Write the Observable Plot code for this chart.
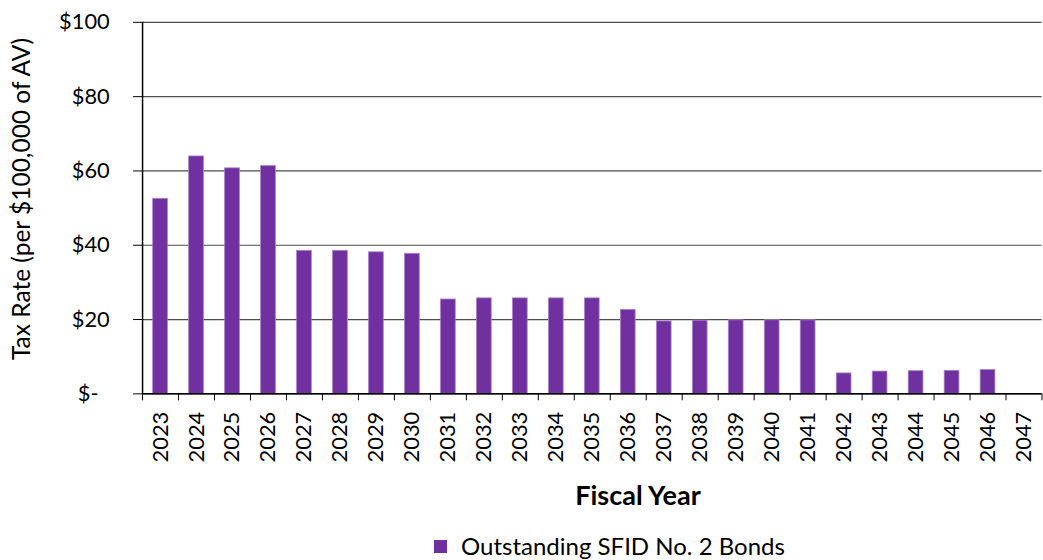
<!DOCTYPE html>
<html>
<head>
<meta charset="utf-8">
<script src="https://cdn.jsdelivr.net/npm/d3@7"></script>
<script src="https://cdn.jsdelivr.net/npm/@observablehq/plot@0.6"></script>
<style>
  html, body { margin: 0; padding: 0; background: #fff; overflow: hidden; }
  #wrap { position: relative; width: 1043px; height: 560px; overflow: hidden; font-family: Lato, "Open Sans", sans-serif; }
  #chart { position: absolute; left: 0; top: 0; }
  #ytitle { position: absolute; left: 21px; top: 199px; transform: translate(-50%, -50%) rotate(-90deg); font-size: 24.5px; color: #000; white-space: nowrap; line-height: 1; }
  #xtitle { position: absolute; left: 638px; top: 479px; transform: translateX(-50%); font-weight: bold; font-size: 27px; color: #000; white-space: nowrap; line-height: 1.2; }
  #legend { position: absolute; left: 434px; top: 532px; display: flex; align-items: center; font-size: 24px; color: #000; white-space: nowrap; line-height: 1.2; }
  #legend .sw { width: 13px; height: 13px; background: #7030A0; margin-right: 14px; }
</style>
</head>
<body>
<div id="wrap">
  <div id="chart"></div>
  <div id="ytitle">Tax Rate (per $100,000 of AV)</div>
  <div id="xtitle">Fiscal Year</div>
  <div id="legend"><span class="sw"></span><span id="legtext"></span></div>
</div>
<script>
const years = [2023, 2024, 2025, 2026, 2027, 2028, 2029, 2030, 2031, 2032, 2033, 2034, 2035, 2036, 2037, 2038, 2039, 2040, 2041, 2042, 2043, 2044, 2045, 2046, 2047];
const taxRate = [52.5, 63.9, 60.7, 61.3, 38.5, 38.5, 38.1, 37.7, 25.4, 25.7, 25.7, 25.7, 25.7, 22.6, 19.5, 19.7, 19.8, 19.8, 19.8, 5.5, 6.0, 6.1, 6.2, 6.4, 0];
const yTicks = [0, 20, 40, 60, 80, 100];
const seriesName = "Outstanding SFID No. 2 Bonds";
document.getElementById("legtext").textContent = seriesName;

const data = years.map((y, i) => ({year: y, value: taxRate[i]}));
const bounds = [years[0] - 0.5, ...years.map(y => y + 0.5)];
const fmt = d => d === 0 ? "$-  " : "$" + d;

const chart = Plot.plot({
  width: 1050,
  height: 483,
  marginLeft: 143,
  marginRight: 1.5,
  marginTop: 22,
  marginBottom: 87,
  style: {fontFamily: "Lato, 'Open Sans', sans-serif", fontSize: "22px", color: "#000", background: "#fff"},
  x: {domain: [bounds[0], bounds[bounds.length - 1]]},
  y: {domain: [0, 100]},
  marks: [
    Plot.gridY(yTicks, {stroke: "#4d4d4d", strokeOpacity: 1, strokeWidth: 1.2}),
    Plot.rectY(data.filter(d => d.value > 0), {
      x1: d => d.year - 0.205, x2: d => d.year + 0.205, y1: 0, y2: "value",
      fill: "#7030A0", stroke: "#a983cc", strokeWidth: 0.8
    }),
    Plot.axisY({ticks: yTicks, tickFormat: fmt, tickSize: 9, tickPadding: 24, tickWidth: 1.2, label: null, fontSize: 22}),
    Plot.axisX({ticks: bounds, tickFormat: null, text: null, tickSize: 7, label: null}),
    Plot.axisX({ticks: years, tickFormat: d => String(d), tickSize: 0, tickPadding: 18, tickRotate: -90, label: null, fontSize: 22}),
    Plot.ruleY([0], {stroke: "#000", strokeWidth: 1.5}),
    Plot.ruleX([bounds[0]], {stroke: "#000", strokeWidth: 1.5})
  ]
});
document.getElementById("chart").appendChild(chart);
</script>
</body>
</html>
